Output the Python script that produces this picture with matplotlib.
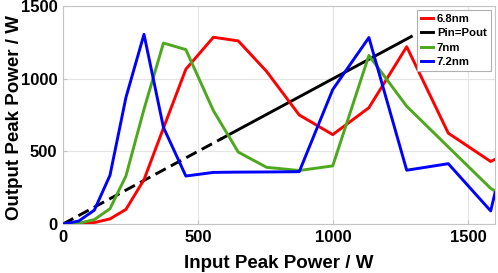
import matplotlib
matplotlib.use('Agg')
import matplotlib.pyplot as plt

plt.rcParams['font.family'] = ['Liberation Sans', 'DejaVu Sans']
plt.rcParams['font.weight'] = 'bold'

# input peak power grid (W)
p_in = [0, 58, 116, 174, 233, 300, 372, 455, 557, 649, 754, 875, 999,
        1133, 1273, 1427, 1584, 1600]

# output peak power (W) per wavelength
out_68 = [0, 2, 10, 35, 100, 305, 660, 1065, 1285, 1260, 1050, 750, 615,
          800, 1220, 625, 430, 445]
out_70 = [0, 5, 30, 105, 330, 790, 1245, 1200, 780, 495, 390, 368, 400,
          1160, 810, 530, 245, 228]
out_72 = [0, 20, 95, 335, 870, 1305, 665, 330, 355, 357, 358, 360, 925,
          1283, 370, 415, 90, 214]

# Pin = Pout reference line (dashed part, then solid part)
ref_dash = [0, 590]
ref_solid = [590, 1290]

ticks = [0, 500, 1000, 1500]

fig = plt.figure(figsize=(4.98, 2.73), dpi=100)
ax = fig.add_axes([63 / 498, 49 / 273, 432 / 498, 218 / 273])

lw = 2.1
ax.plot(p_in, out_68, color='#ff0000', lw=lw, label='6.8nm', zorder=3)
ax.plot(ref_dash, ref_dash, color='black', lw=lw, dashes=(4, 2), zorder=2)
ax.plot(ref_solid, ref_solid, color='black', lw=lw, label='Pin=Pout', zorder=2)
ax.plot(p_in, out_70, color='#4ca81c', lw=lw, label='7nm', zorder=3)
ax.plot(p_in, out_72, color='#0000ff', lw=lw, label='7.2nm', zorder=4)

ax.set_xlim(0, 1600)
ax.set_ylim(0, 1500)
ax.set_xticks(ticks)
ax.set_yticks(ticks)
ax.grid(True, color='#e4e4e4', lw=0.8)
ax.set_axisbelow(True)
for s in ax.spines.values():
    s.set_color('#c4c4c4')
    s.set_linewidth(0.8)
ax.tick_params(direction='in', length=3, color='#c4c4c4', labelsize=12, pad=4)
for t in ax.get_xticklabels() + ax.get_yticklabels():
    t.set_fontweight('bold')

ax.set_xlabel('Input Peak Power / W', fontsize=13.5, fontweight='bold')
ax.set_ylabel('Output Peak Power / W', fontsize=13.5, fontweight='bold')
ax.xaxis.set_label_coords(0.5, -0.14)
ax.yaxis.set_label_coords(-0.093, 0.49)

leg = ax.legend(loc='upper right', bbox_to_anchor=(0.99, 0.982),
                prop={'weight': 'bold', 'size': 8.2}, handlelength=1.1,
                handletextpad=0.3, labelspacing=0.38, borderpad=0.35,
                borderaxespad=0, fancybox=False, framealpha=1)
leg.get_frame().set_edgecolor('#b0b0b0')
leg.get_frame().set_linewidth(0.8)

fig.savefig('out.png', dpi=100)
